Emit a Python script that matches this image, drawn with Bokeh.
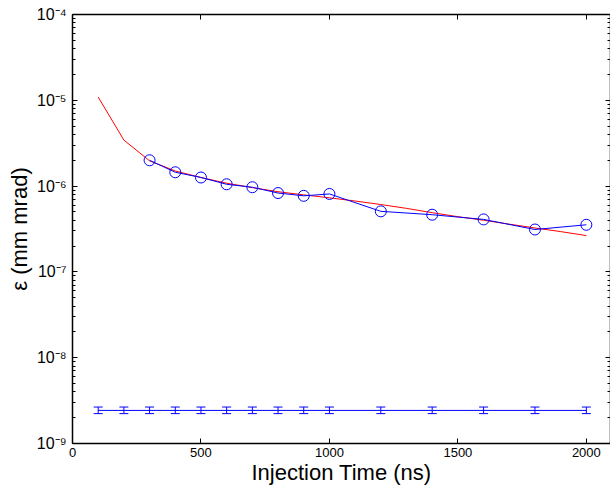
from bokeh.plotting import figure
from bokeh.models import (ColumnDataSource, Whisker, TeeHead, LinearAxis, LogAxis,
                          FixedTicker, CustomJSTickFormatter, Range1d)
from bokeh.embed import file_html
from bokeh.resources import INLINE

# ---- data ----
fit_t = [100, 200, 300, 400, 500, 600, 700, 800, 900, 1000,
         1100, 1200, 1300, 1400, 1500, 1600, 1700, 1800, 1900, 2000]
fit_eps = [1.09e-5, 3.44e-6, 1.97e-6, 1.50e-6, 1.26e-6, 1.08e-6, 9.6e-7, 8.6e-7, 7.9e-7, 7.3e-7,
           6.7e-7, 6.1e-7, 5.5e-7, 4.9e-7, 4.4e-7, 4.0e-7, 3.6e-7, 3.25e-7, 2.95e-7, 2.65e-7]

meas_t = [300, 400, 500, 600, 700, 800, 900, 1000, 1200, 1400, 1600, 1800, 2000]
meas_eps = [2.0e-6, 1.45e-6, 1.26e-6, 1.05e-6, 9.7e-7, 8.3e-7, 7.7e-7, 8.1e-7,
            5.08e-7, 4.64e-7, 4.09e-7, 3.12e-7, 3.54e-7]

base_t = [100, 200, 300, 400, 500, 600, 700, 800, 900, 1000, 1200, 1400, 1600, 1800, 2000]
base_eps = [2.43e-9, 2.43e-9, 2.43e-9, 2.43e-9, 2.43e-9, 2.43e-9, 2.43e-9, 2.43e-9,
            2.43e-9, 2.43e-9, 2.43e-9, 2.43e-9, 2.43e-9, 2.43e-9, 2.43e-9]
base_lo = [2.23e-9, 2.23e-9, 2.23e-9, 2.23e-9, 2.23e-9, 2.23e-9, 2.23e-9, 2.23e-9,
           2.23e-9, 2.23e-9, 2.23e-9, 2.23e-9, 2.23e-9, 2.23e-9, 2.23e-9]
base_hi = [2.66e-9, 2.66e-9, 2.66e-9, 2.66e-9, 2.66e-9, 2.66e-9, 2.66e-9, 2.66e-9,
           2.66e-9, 2.66e-9, 2.66e-9, 2.66e-9, 2.66e-9, 2.66e-9, 2.66e-9]

x_ticks = [0, 500, 1000, 1500, 2000]
y_ticks = [1e-9, 1e-8, 1e-7, 1e-6, 1e-5, 1e-4]
y_minor = [m * 10.0 ** e for e in range(-9, -4) for m in range(2, 10)]

FONT = "Liberation Sans"

p = figure(width=610, height=487, y_axis_type="log",
           x_range=Range1d(0, 2094), y_range=Range1d(1e-9, 1e-4),
           output_backend="svg", toolbar_location=None,
           min_border_left=72, min_border_top=14, min_border_right=0, min_border_bottom=40)
p.grid.visible = False
p.outline_line_color = None
p.background_fill_color = "white"
p.border_fill_color = "white"

# lines
p.line(fit_t, fit_eps, line_color="red", line_width=1)
p.line(meas_t, meas_eps, line_color="blue", line_width=1)
p.scatter(meas_t, meas_eps, marker="circle", size=11, fill_color=None,
          line_color="blue", line_width=1)

src_b = ColumnDataSource(dict(t=base_t, eps=base_eps, lo=base_lo, hi=base_hi))
p.line("t", "eps", source=src_b, line_color="blue", line_width=1)
p.add_layout(Whisker(source=src_b, base="t", upper="hi", lower="lo", dimension="height",
                     line_color="blue", line_width=1,
                     upper_head=TeeHead(size=9, line_color="blue", line_width=1),
                     lower_head=TeeHead(size=9, line_color="blue", line_width=1)))

fmt = CustomJSTickFormatter(code="""
const e = Math.round(Math.log10(tick));
const m = {'-':'\\u207b','0':'\\u2070','1':'\\u00b9','2':'\\u00b2','3':'\\u00b3','4':'\\u2074',
           '5':'\\u2075','6':'\\u2076','7':'\\u2077','8':'\\u2078','9':'\\u2079'};
return '10' + String(e).split('').map(c => m[c]).join('');
""")
blank = CustomJSTickFormatter(code="return ''")

def style(ax, minor=True):
    ax.axis_line_width = 1.5
    ax.axis_line_color = "black"
    ax.major_tick_in = 5
    ax.major_tick_out = 0
    ax.minor_tick_in = 3 if minor else 0
    ax.minor_tick_out = 0
    ax.major_tick_line_color = "black"
    ax.minor_tick_line_color = "black"
    ax.major_label_text_font = FONT
    ax.major_label_text_color = "black"
    ax.axis_label_text_font = FONT
    ax.axis_label_text_font_style = "normal"
    ax.axis_label_text_color = "black"

xa = p.xaxis[0]
style(xa, minor=False)
xa.ticker = FixedTicker(ticks=x_ticks)
xa.major_label_text_font_size = "13px"
xa.major_label_standoff = 4
xa.axis_label = "Injection Time (ns)"
xa.axis_label_text_font_size = "22px"
xa.axis_label_standoff = 0

ya = p.yaxis[0]
style(ya)
ya.ticker = FixedTicker(ticks=y_ticks, minor_ticks=y_minor)
ya.formatter = fmt
ya.major_label_text_font_size = "16px"
ya.major_label_standoff = 6
ya.axis_label = "ε (mm mrad)"
ya.axis_label_text_font_size = "22px"
ya.axis_label_standoff = 2

top = LinearAxis(ticker=FixedTicker(ticks=x_ticks), formatter=blank)
style(top, minor=False)
top.major_label_text_font_size = "1px"
top.major_label_standoff = 0
p.add_layout(top, "above")

right = LogAxis(ticker=FixedTicker(ticks=y_ticks, minor_ticks=y_minor), formatter=blank)
style(right)
right.major_label_text_font_size = "1px"
right.major_label_standoff = 0
p.add_layout(right, "right")

open("out.html", "w").write(file_html(p, INLINE))
